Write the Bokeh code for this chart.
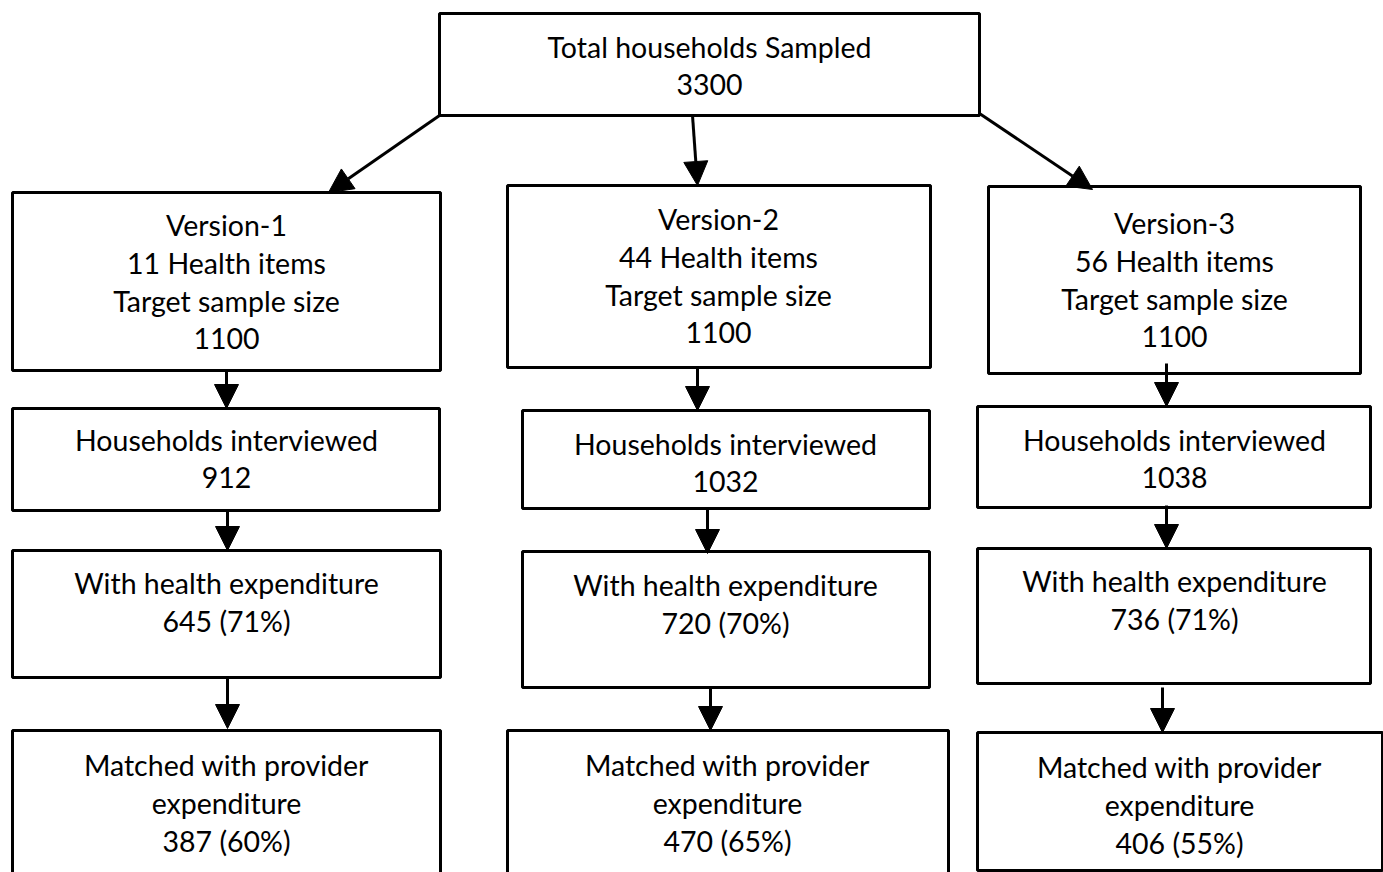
from bokeh.plotting import figure
from bokeh.models import Range1d, Arrow, NormalHead, ColumnDataSource
from bokeh.core.properties import value
from bokeh.embed import file_html
from bokeh.resources import INLINE

# ---- data (flowchart content) ----
box_ids = ["top", "v1", "v2", "v3", "i1", "i2", "i3", "e1", "e2", "e3", "m1", "m2", "m3"]
box_left = [439, 12, 507, 988, 12, 522, 977, 12, 522, 977, 12, 507, 977]
box_right = [979, 440, 930, 1360, 439, 929, 1370, 440, 929, 1370, 440, 948, 1382]
box_top = [13, 192, 185, 186, 408, 410, 406, 550, 551, 548, 730, 730, 732]
box_bottom = [115, 370, 367, 373, 510, 508, 507, 677, 687, 683, 900, 900, 870]
box_lines = [
    ["Total households Sampled", "3300"],
    ["Version-1", "11 Health items", "Target sample size", "1100"],
    ["Version-2", "44 Health items", "Target sample size", "1100"],
    ["Version-3", "56 Health items", "Target sample size", "1100"],
    ["Households interviewed", "912"],
    ["Households interviewed", "1032"],
    ["Households interviewed", "1038"],
    ["With health expenditure", "645 (71%)"],
    ["With health expenditure", "720 (70%)"],
    ["With health expenditure", "736 (71%)"],
    ["Matched with provider", "expenditure", "387 (60%)"],
    ["Matched with provider", "expenditure", "470 (65%)"],
    ["Matched with provider", "expenditure", "406 (55%)"],
]
box_text_x = [709, 226, 718, 1174, 226, 725, 1174, 226, 725, 1174, 226, 727, 1179]
box_text_y0 = [46, 224, 218, 222, 439, 443, 439, 582, 584, 580, 764, 764, 766]

arrow_x0 = [439, 692, 979, 226, 697, 1166, 227, 707, 1166, 227, 710, 1162]
arrow_y0 = [115, 115, 113, 370, 367, 363, 510, 508, 505, 678, 687, 687]
arrow_x1 = [328, 697, 1092, 226, 697, 1166, 227, 707, 1166, 227, 710, 1162]
arrow_y1 = [192, 185, 189, 408, 410, 406, 550, 553, 548, 728, 730, 732]

LINE_H = 38

p = figure(width=1383, height=872, output_backend="svg", toolbar_location=None,
           x_range=Range1d(0, 1383), y_range=Range1d(872, 0), min_border=0)
p.axis.visible = False
p.grid.visible = False
p.outline_line_color = None
p.background_fill_color = "white"
p.border_fill_color = "white"

# arrows first so boxes cover their starting points
for x0, y0, x1, y1 in zip(arrow_x0, arrow_y0, arrow_x1, arrow_y1):
    p.add_layout(Arrow(x_start=x0, y_start=y0, x_end=x1, y_end=y1,
                       line_width=3, line_color="black",
                       end=NormalHead(size=24, fill_color="black", line_color="black", line_width=1)))

p.quad(left=box_left, right=box_right, top=box_top, bottom=box_bottom,
       fill_color="white", line_color="black", line_width=3)

tx, ty, tt = [], [], []
for lines, cx, y0 in zip(box_lines, box_text_x, box_text_y0):
    for i, s in enumerate(lines):
        tx.append(cx)
        ty.append(y0 + i * LINE_H)
        tt.append(s)
src = ColumnDataSource(dict(x=tx, y=ty, t=tt))
p.text(x="x", y="y", text="t", source=src, text_align="center", text_baseline="middle",
       text_font=value("Lato"), text_font_size="28.5px", text_color="black")

open("out.html", "w").write(file_html(p, INLINE))
